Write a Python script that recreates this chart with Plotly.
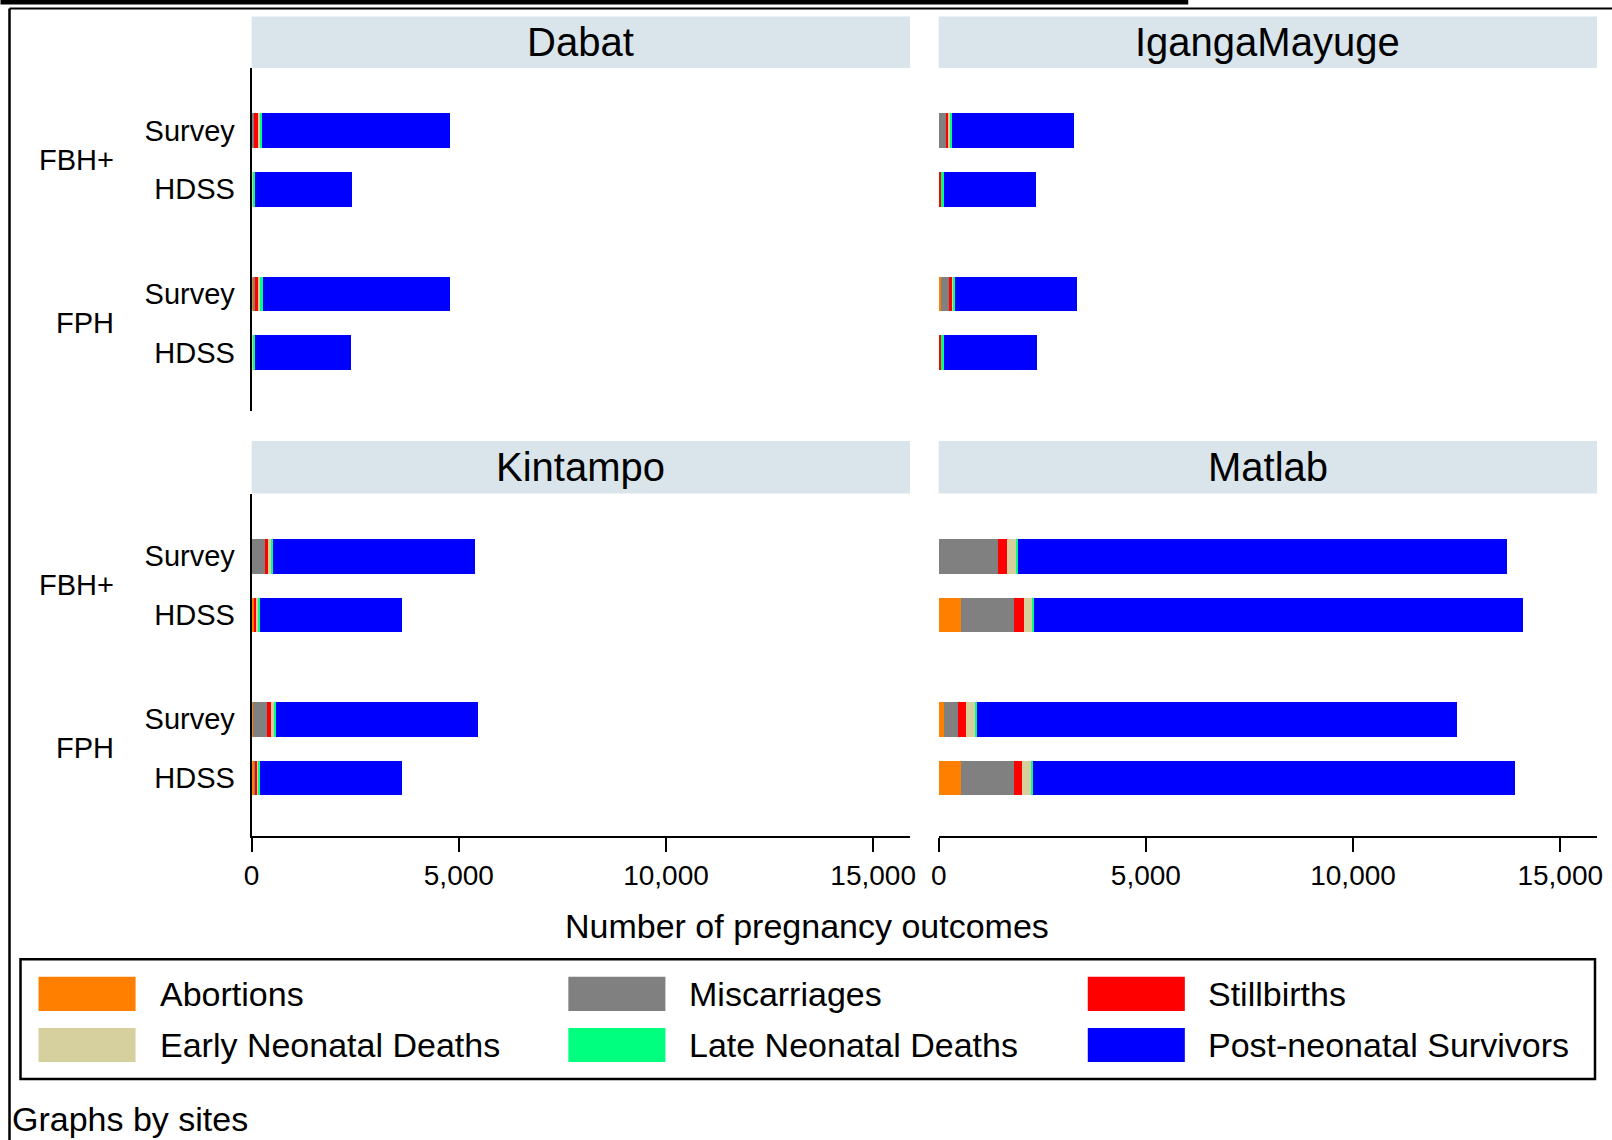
import plotly.graph_objects as go

# Sites shown in the 2x2 grid (row-major)
sites = ["Dabat", "IgangaMayuge", "Kintampo", "Matlab"]

# Bars within each panel: FBH+ Survey, FBH+ HDSS, FPH Survey, FPH HDSS
methods = ["FBH+", "FPH"]
sources = ["Survey", "HDSS", "Survey", "HDSS"]

outcomes = ["Abortions", "Miscarriages", "Stillbirths",
            "Early Neonatal Deaths", "Late Neonatal Deaths", "Post-neonatal Survivors"]
colors = ["#FF7F00", "#808080", "#FF0000", "#D6D09F", "#00FF7F", "#0000FF"]

# Number of pregnancy outcomes per site, in bar order above
abortions = {"Dabat": [20, 0, 30, 0], "IgangaMayuge": [10, 0, 40, 0],
             "Kintampo": [10, 50, 30, 60], "Matlab": [10, 530, 110, 530]}
miscarriages = {"Dabat": [30, 10, 40, 10], "IgangaMayuge": [160, 10, 200, 10],
                "Kintampo": [300, 10, 340, 10], "Matlab": [1420, 1290, 340, 1280]}
stillbirths = {"Dabat": [90, 10, 80, 10], "IgangaMayuge": [60, 50, 80, 50],
               "Kintampo": [80, 60, 100, 60], "Matlab": [200, 230, 190, 200]}
early_neonatal = {"Dabat": [50, 10, 50, 10], "IgangaMayuge": [30, 10, 30, 10],
                  "Kintampo": [60, 30, 50, 30], "Matlab": [240, 200, 220, 200]}
late_neonatal = {"Dabat": [60, 50, 60, 50], "IgangaMayuge": [60, 40, 40, 40],
                 "Kintampo": [60, 40, 60, 40], "Matlab": [40, 40, 60, 50]}
survivors = {"Dabat": [4530, 2330, 4510, 2300], "IgangaMayuge": [2930, 2235, 2950, 2265],
             "Kintampo": [4880, 3430, 4875, 3430], "Matlab": [11800, 11810, 11590, 11630]}

series = [abortions, miscarriages, stillbirths, early_neonatal, late_neonatal, survivors]

x_ticks = [0, 5000, 10000, 15000]

FONT = "Liberation Sans, Arial, Helvetica, sans-serif"
W, H = 1612, 1140

# horizontal placement: the drawing area spans PAGE_W pixels starting at PAGE_X0
PAGE_X0, PAGE_W = 7.5, 1597.0


def px(x):
    return (x - PAGE_X0) / PAGE_W


def py(y):
    return 1 - y / H


# bar slots along the category axis (gap between the two methods)
y_pos = [0, 1, 2.79, 3.79]
y_range = [4.79, -1.07]
x_range = [0, 15890]

col_dom = [[px(251), px(909)], [px(937.6), px(1595.6)]]
row_dom = [[py(411.2), py(67.9)], [py(835.8), py(493.5)]]
strip_px = [(16.4, 67.9), (441.0, 493.5)]

fig = go.Figure()
layout_axes = {}
annotations = []
shapes = []

for k, site in enumerate(sites):
    n = k + 1
    r, c = divmod(k, 2)
    xa = "x" if n == 1 else f"x{n}"
    ya = "y" if n == 1 else f"y{n}"
    for j, name in enumerate(outcomes):
        fig.add_trace(go.Bar(
            y=y_pos, x=series[j][site], orientation="h", name=name,
            marker=dict(color=colors[j], line=dict(width=0)),
            width=0.59, xaxis=xa, yaxis=ya, showlegend=False,
        ))

    xkey = "xaxis" if n == 1 else f"xaxis{n}"
    ykey = "yaxis" if n == 1 else f"yaxis{n}"
    xax = dict(domain=col_dom[c], range=x_range, anchor=ya, showgrid=False,
               zeroline=False, fixedrange=True)
    if r == 1:
        xax.update(showline=True, linecolor="black", linewidth=2,
                   ticks="outside", ticklen=14, tickwidth=2, tickcolor="black",
                   tickvals=x_ticks, ticktext=[f"{v:,}" for v in x_ticks],
                   tickfont=dict(size=28, color="black", family=FONT),
                   ticklabelstandoff=0)
    else:
        xax.update(showline=False, showticklabels=False, ticks="")
    yax = dict(domain=row_dom[r], range=y_range, anchor=xa, showgrid=False,
               zeroline=False, fixedrange=True)
    if c == 0:
        yax.update(showline=True, linecolor="black", linewidth=2,
                   tickvals=y_pos, ticktext=sources, ticks="",
                   tickfont=dict(size=29, color="black", family=FONT),
                   ticklabelstandoff=9)
        for m, method in enumerate(methods):
            annotations.append(dict(
                text=method, xref="paper", yref=ya, x=px(115),
                y=(y_pos[2 * m] + y_pos[2 * m + 1]) / 2,
                xanchor="right", yanchor="middle", showarrow=False,
                font=dict(size=29, color="black", family=FONT)))
    else:
        yax.update(showline=False, showticklabels=False, ticks="")
    layout_axes[xkey] = xax
    layout_axes[ykey] = yax

    # facet strip with site name
    s0, s1 = strip_px[r]
    shapes.append(dict(type="rect", xref="paper", yref="paper",
                       x0=col_dom[c][0], x1=col_dom[c][1], y0=py(s1), y1=py(s0),
                       fillcolor="#D9E5EB", line=dict(width=0), layer="below"))
    annotations.append(dict(
        text=site, xref="paper", yref="paper",
        x=(col_dom[c][0] + col_dom[c][1]) / 2, y=py((s0 + s1) / 2),
        xanchor="center", yanchor="middle", showarrow=False,
        font=dict(size=40, color="black", family=FONT)))

# shared x-axis title
annotations.append(dict(
    text="Number of pregnancy outcomes", xref="paper", yref="paper",
    x=px(806), y=py(926), xanchor="center", yanchor="middle", showarrow=False,
    font=dict(size=34, color="black", family=FONT)))

# legend box drawn as keys + labels in a 3-column grid
shapes.append(dict(type="rect", xref="paper", yref="paper",
                   x0=px(20), x1=px(1593.5), y0=py(1079), y1=py(959.3),
                   line=dict(color="black", width=2.5), fillcolor="rgba(0,0,0,0)"))
key_x = [38, 567.5, 1086.6]
text_x = [157, 686, 1205]
key_rows = [(976.7, 1011), (1028, 1062)]
for j, name in enumerate(outcomes):
    rr, cc = divmod(j, 3)
    y0, y1 = key_rows[rr]
    shapes.append(dict(type="rect", xref="paper", yref="paper",
                       x0=px(key_x[cc]), x1=px(key_x[cc] + 97), y0=py(y1), y1=py(y0),
                       fillcolor=colors[j], line=dict(width=0)))
    annotations.append(dict(
        text=name, xref="paper", yref="paper", x=px(text_x[cc]), y=py((y0 + y1) / 2),
        xanchor="left", yanchor="middle", showarrow=False,
        font=dict(size=34, color="black", family=FONT)))

annotations.append(dict(
    text="Graphs by sites", xref="paper", yref="paper", x=px(9), y=py(1118.5),
    xanchor="left", yanchor="middle", showarrow=False,
    font=dict(size=34, color="black", family=FONT)))

# outer frame lines
shapes.append(dict(type="rect", xref="paper", yref="paper",
                   x0=px(0), x1=px(1187), y0=py(4.5), y1=1,
                   fillcolor="black", line=dict(width=0)))
shapes.append(dict(type="line", xref="paper", yref="paper",
                   x0=px(9), x1=px(1612), y0=py(8.5), y1=py(8.5),
                   line=dict(color="black", width=2)))
shapes.append(dict(type="line", xref="paper", yref="paper",
                   x0=px(9), x1=px(9), y0=py(8.5), y1=0,
                   line=dict(color="black", width=2.5)))

fig.update_layout(
    width=W, height=H, margin=dict(l=0, r=0, t=0, b=0),
    paper_bgcolor="white", plot_bgcolor="white",
    barmode="stack", bargap=0, showlegend=False,
    font=dict(family=FONT, color="black"),
    annotations=annotations, shapes=shapes,
    **layout_axes,
)

fig.write_html("out.html")
